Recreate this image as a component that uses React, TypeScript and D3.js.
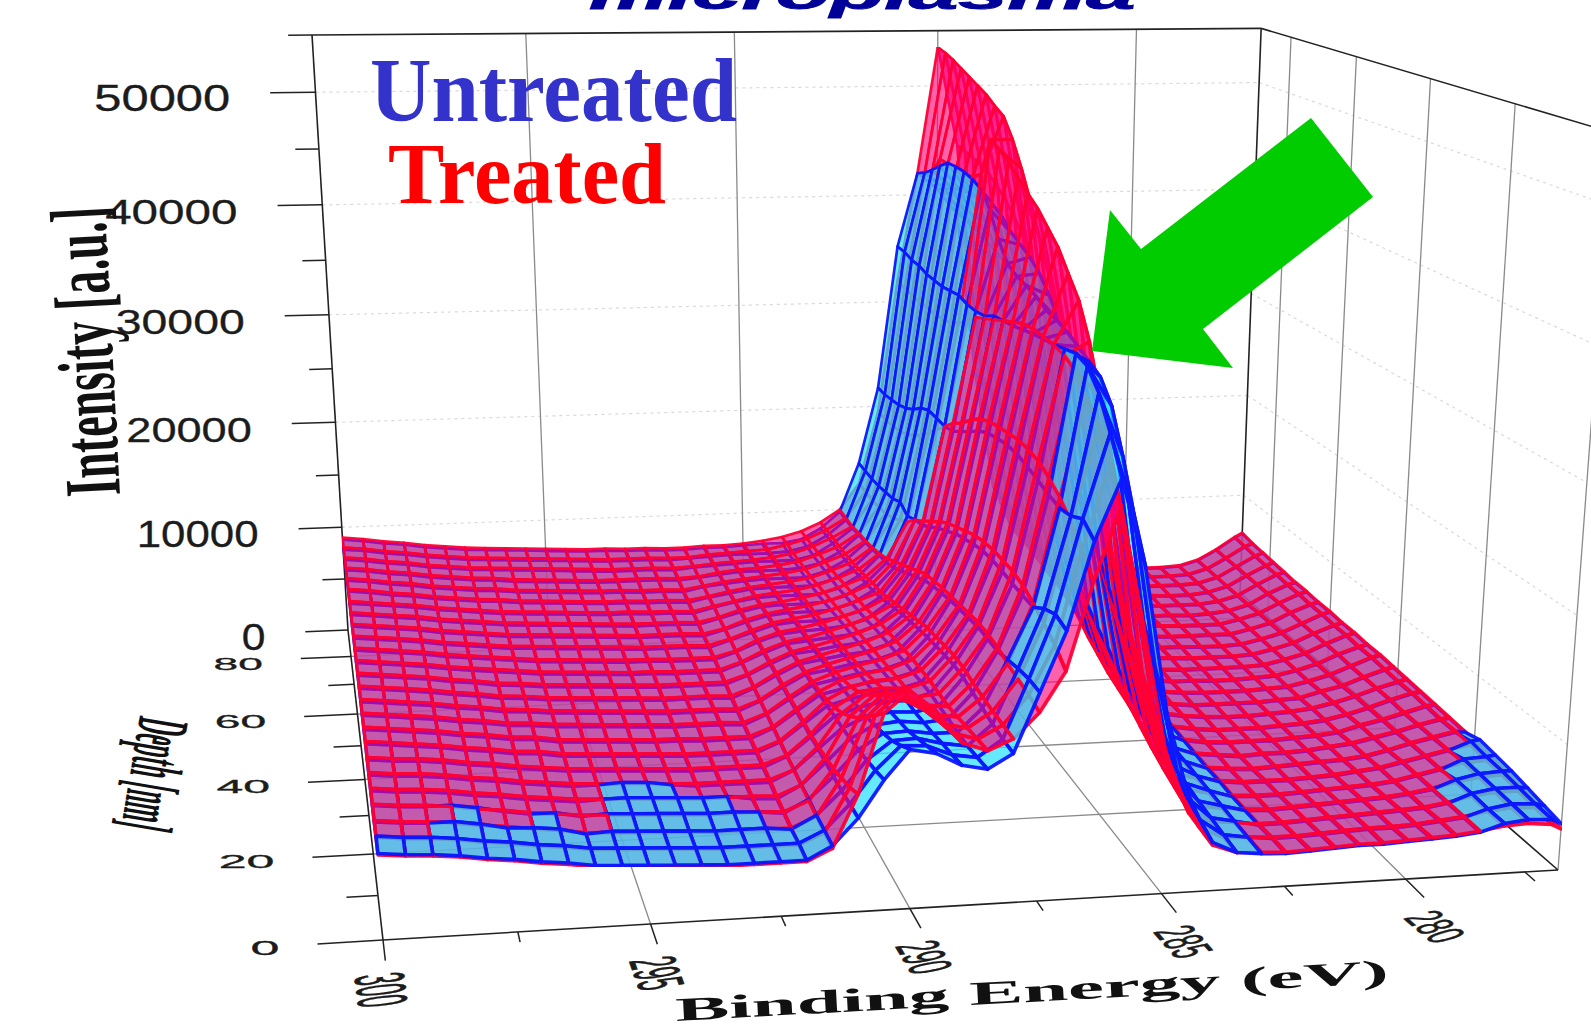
import { line, range, scaleLinear } from "d3";

// binding energy columns (eV) and depth rows (nm) of the measured surfaces
const ENERGIES = [300, 299.5, 299, 298.5, 298, 297.5, 297, 296.5, 296, 295.5, 295, 294.5, 294, 293.5, 293, 292.5, 292, 291.5, 291, 290.5, 290, 289.5, 289, 288.5, 288, 287.5, 287, 286.5, 286, 285.5, 285, 284.5, 284, 283.5, 283, 282.5, 282, 281.5, 281, 280.5, 280, 279.5, 279, 278.5, 278, 277.5, 277, 276.8];
const DEPTHS = [0, 3.75, 7.5, 11.25, 15, 18.75, 22.5, 26.25, 30, 33.75, 37.5, 41.25, 45, 48.75, 52.5, 56.25, 60, 63.75, 67.5, 71.25, 75, 78.75, 82.5, 86.25, 90];

// intensity in hundreds of a.u., one line per depth
const TREATED = [
  [64,62,61,59,56,54,51,49,46,45,44,43,42,41,41,41,41,50,90,150,166,150,125,118,126,145,175,240,295,205,110,62,36,29,28,27,28,29,30,30,31,32,33,35,38,39,37,33],
  [65,63,62,60,57,55,52,50,47,46,45,44,43,42,42,42,42,50,84,138,155,142,122,116,126,148,185,255,315,240,130,72,38,29,28,27,27,28,29,30,30,31,33,35,38,40,39,36],
  [66,64,63,61,58,56,53,51,48,47,46,45,44,43,43,43,43,51,80,126,144,134,118,114,126,150,192,268,335,275,150,85,42,30,28,26,26,27,28,29,30,31,32,35,39,41,41,39],
  [67,65,64,62,59,57,54,52,50,49,48,47,46,45,45,45,44,52,76,115,133,126,115,112,127,152,198,278,352,310,170,98,47,31,28,26,25,26,27,28,29,30,32,35,39,42,43,42],
  [68,66,65,63,60,58,55,53,51,50,49,48,47,46,46,46,45,53,74,106,122,118,112,110,128,155,203,285,365,345,195,112,52,33,29,26,25,25,26,27,28,29,31,35,39,43,44,44],
  [69,67,66,64,61,59,56,54,52,51,50,49,48,47,47,47,47,54,72,98,112,112,108,110,130,156,205,290,370,380,225,128,58,35,30,27,25,25,25,26,27,29,31,35,39,43,46,46],
  [70,68,67,65,62,60,57,55,53,52,51,50,49,48,48,48,48,55,71,92,104,106,105,110,130,156,205,292,372,405,255,145,65,38,31,27,25,24,25,26,27,28,30,34,39,43,47,47],
  [72,70,68,66,63,61,58,57,54,53,52,51,50,49,49,49,49,56,71,88,98,102,103,109,128,154,205,292,372,420,290,165,72,42,32,28,26,24,25,25,26,28,30,34,38,43,47,48],
  [73,71,69,67,64,62,59,58,55,54,53,52,51,51,50,50,50,57,71,85,94,98,101,108,126,152,203,290,372,435,320,185,82,46,34,29,26,25,25,25,26,27,29,34,38,43,48,49],
  [74,72,70,68,65,63,60,59,57,56,55,54,53,52,52,52,51,58,71,83,90,95,99,106,124,150,200,288,370,445,345,205,92,50,36,30,27,25,25,25,26,27,29,33,38,44,49,50],
  [75,73,71,69,66,64,61,60,58,57,56,55,54,53,53,53,52,59,71,81,87,92,97,104,120,148,195,285,365,455,370,228,102,54,38,31,28,26,25,25,26,27,29,33,38,44,49,51],
  [76,74,72,70,67,65,62,61,59,58,57,56,55,54,54,54,53,60,71,80,85,90,95,102,116,145,190,280,360,462,395,250,112,58,41,32,28,26,26,26,26,27,28,33,37,44,50,52],
  [77,75,73,71,68,66,63,62,60,59,58,57,56,55,55,55,55,61,71,79,83,88,93,100,112,142,185,272,355,470,420,275,125,64,44,34,29,27,26,26,26,27,28,32,37,44,51,53],
  [78,76,74,72,69,67,65,63,61,60,59,58,57,57,56,56,56,62,71,78,81,86,91,98,108,136,178,262,350,478,445,305,140,70,47,35,30,27,27,26,26,27,28,32,37,45,51,53],
  [79,77,75,73,70,68,66,64,62,61,60,59,58,58,57,57,57,62,71,77,80,84,89,95,104,130,170,255,345,484,468,335,155,78,50,37,31,28,27,27,27,27,28,32,37,45,52,54],
  [80,78,76,74,71,69,67,65,64,63,62,61,60,59,59,59,58,63,70,76,79,82,87,93,100,124,162,245,335,488,488,365,170,85,54,38,32,29,28,27,27,27,28,32,37,45,52,54],
  [81,79,77,75,72,70,68,66,65,64,63,62,61,60,60,60,59,63,70,75,78,81,85,91,99,118,155,235,328,455,503,400,188,92,58,40,33,30,28,28,27,27,28,32,37,45,53,55],
  [82,80,78,76,73,71,69,67,66,65,64,63,62,61,61,61,60,64,70,74,76,79,83,89,96,112,145,225,322,448,508,412,198,98,62,42,34,30,29,28,28,28,28,32,37,46,53,55],
  [83,81,79,77,74,72,70,68,67,66,65,64,63,63,62,62,61,65,69,73,75,77,81,87,94,108,138,215,320,446,514,422,208,104,66,44,36,31,30,29,28,28,28,32,37,46,54,56],
  [85,83,80,78,75,73,71,70,68,67,66,65,64,64,63,63,62,65,69,72,74,76,79,85,92,105,132,208,318,445,518,430,215,108,68,46,37,32,30,29,29,28,29,31,36,46,54,56],
  [86,84,81,79,76,74,72,71,69,68,67,66,65,65,64,64,63,66,69,71,73,75,78,84,91,103,128,202,318,446,522,436,222,112,70,48,38,33,31,30,29,29,29,31,36,46,55,57],
  [87,85,82,80,77,75,73,72,70,69,68,67,66,66,66,66,65,66,69,71,72,74,77,83,90,102,126,198,318,446,526,440,226,114,72,51,39,34,32,30,30,29,29,31,36,46,55,58],
  [88,86,83,81,78,76,74,73,72,71,70,69,68,67,67,67,66,67,69,70,71,73,76,82,90,100,125,196,318,430,530,442,230,116,74,53,41,35,33,31,30,30,30,31,36,46,56,59],
  [89,87,84,82,79,77,75,74,73,72,71,70,69,68,68,68,67,67,69,70,71,72,76,81,89,100,125,195,318,425,533,444,232,118,75,56,42,36,33,31,31,30,30,31,36,46,57,60],
  [90,88,85,83,80,78,76,75,74,73,72,71,70,70,69,69,68,68,69,69,70,72,75,80,88,100,125,195,320,420,535,445,235,120,76,60,44,37,34,32,31,30,30,31,36,46,58,62],
];

const UNTREATED = [
  [65,63,62,60,57,55,52,50,47,46,45,44,43,42,42,42,42,52,72,100,122,118,108,104,115,160,205,270,315,250,140,72,38,29,27,26,27,28,29,29,30,31,32,34,40,42,41,37],
  [66,64,63,61,58,56,53,51,48,47,46,45,44,43,43,43,43,52,71,96,114,113,105,102,115,160,208,278,340,280,165,85,44,31,28,26,26,27,28,29,29,30,32,34,40,43,42,40],
  [65,63,62,62,59,55,54,52,47,48,47,46,45,44,44,44,42,52,70,93,107,108,103,100,116,158,203,272,362,315,190,100,50,33,29,25,25,26,27,28,29,30,31,34,41,44,44,43],
  [66,64,63,63,60,56,53,53,49,50,49,48,47,46,46,45,43,53,70,90,102,103,100,100,118,155,195,270,375,345,215,115,56,35,30,25,24,25,26,27,28,29,31,34,41,45,46,46],
  [66,64,63,61,58,56,53,51,49,50,50,49,48,47,47,44,43,53,70,88,98,100,98,100,120,152,195,272,378,360,240,128,62,38,31,25,24,24,25,26,27,28,30,34,38,46,47,48],
  [67,65,64,62,59,57,54,52,50,50,51,50,47,45,45,45,45,54,70,86,94,97,96,100,122,152,195,275,375,365,260,140,70,42,32,26,24,24,24,25,26,28,30,34,38,42,49,50],
  [68,66,65,63,60,58,55,53,51,50,49,48,47,46,46,46,46,54,69,85,91,95,95,100,122,152,196,278,372,370,285,155,78,46,33,26,24,23,24,25,26,27,29,33,38,42,46,46],
  [70,68,66,64,61,59,56,55,52,51,50,49,48,47,47,47,47,55,69,83,88,92,94,99,120,150,196,280,370,375,310,170,85,50,34,27,25,23,24,24,25,27,29,33,37,42,46,47],
  [71,69,67,65,62,60,57,56,53,52,51,50,49,49,48,48,48,56,69,82,86,90,92,97,118,148,195,280,368,378,335,188,92,54,36,28,25,24,24,24,25,26,28,33,37,42,47,48],
  [72,70,68,66,63,61,58,57,55,54,53,52,51,50,50,50,49,57,69,80,84,88,90,96,116,146,192,278,365,380,350,208,100,58,38,29,26,24,24,24,25,26,28,32,37,43,48,49],
  [73,71,69,67,64,62,59,58,56,55,54,53,52,51,51,51,50,58,69,79,82,86,88,94,113,143,188,275,362,385,365,228,108,62,40,30,27,25,24,24,25,26,28,32,37,43,48,50],
  [74,72,70,68,65,63,60,59,57,56,55,54,53,52,52,52,51,59,69,78,81,84,86,92,110,140,184,270,360,388,380,248,118,66,43,31,27,25,25,25,25,26,27,32,36,43,49,51],
  [75,73,71,69,66,64,61,60,58,57,56,55,54,53,53,53,53,60,69,77,79,82,84,90,107,136,178,262,358,390,392,268,128,70,46,33,28,26,25,25,25,26,27,31,36,43,50,52],
  [76,74,72,70,67,65,63,61,59,58,57,56,55,55,54,54,54,61,69,76,78,80,82,88,103,130,172,255,352,395,400,290,142,75,49,34,29,26,26,25,25,26,27,31,36,44,50,52],
  [77,75,73,71,68,66,64,62,60,59,58,57,56,56,55,55,55,61,69,75,77,78,80,85,99,124,165,248,350,410,405,312,155,80,52,36,30,27,26,26,26,26,27,31,36,44,51,53],
  [78,76,74,72,69,67,65,63,62,61,60,59,58,57,57,57,56,62,68,74,76,76,78,83,95,118,158,245,350,430,410,335,170,86,56,37,31,28,27,26,26,26,27,31,36,44,51,53],
  [79,77,75,73,70,68,66,64,63,62,61,60,59,58,58,58,57,62,68,73,75,75,76,81,92,112,155,245,352,442,418,355,185,92,60,39,32,29,27,27,26,26,27,31,36,44,52,54],
  [80,78,76,74,71,69,67,65,64,63,62,61,60,59,59,59,58,63,68,72,73,73,74,79,90,108,150,245,350,446,420,362,195,98,64,41,33,29,28,27,27,27,27,31,36,45,52,54],
  [81,79,77,75,72,70,68,66,65,64,63,62,61,61,60,60,59,64,68,71,72,72,72,77,88,106,155,240,348,448,420,368,205,102,68,43,35,30,29,28,27,27,27,31,36,45,53,55],
  [83,81,78,76,73,71,69,68,66,65,64,63,62,62,61,61,60,64,67,70,71,71,71,76,86,103,150,232,348,448,420,372,212,106,70,45,36,31,29,28,28,27,28,30,35,45,53,55],
  [84,82,79,77,74,72,70,69,67,66,65,64,63,63,62,62,61,65,67,69,70,70,70,75,85,101,148,226,348,447,420,375,218,110,72,47,37,32,30,29,28,28,28,30,35,45,54,56],
  [85,83,80,78,75,73,71,70,68,67,66,65,64,64,64,64,63,65,67,69,69,69,70,74,84,100,146,222,350,440,418,378,222,112,74,50,38,33,31,29,29,28,28,30,35,45,54,57],
  [86,84,81,79,76,74,72,71,70,69,68,67,66,65,65,65,64,66,67,68,69,69,69,73,84,98,145,220,350,432,415,380,226,114,75,52,40,34,32,30,29,29,29,30,35,45,55,58],
  [87,85,82,80,77,75,73,72,71,70,69,68,67,66,66,66,65,66,67,68,68,68,69,73,83,98,145,218,352,425,410,382,228,116,76,55,41,35,32,30,30,29,29,30,35,45,56,59],
  [88,86,83,81,78,76,74,73,72,71,70,69,68,68,67,67,66,66,67,67,68,69,69,72,82,98,145,218,352,420,405,382,230,118,76,59,43,36,33,31,30,29,29,30,35,45,57,61],
];

const ENERGY_TICKS = [300, 295, 290, 285, 280];
const ENERGY_MINOR = [297.5, 292.5, 287.5, 282.5, 277.5];
const DEPTH_TICKS = [0, 20, 40, 60, 80];
const DEPTH_MINOR = [10, 30, 50, 70];
const INTENSITY_TICKS = [0, 10000, 20000, 30000, 40000, 50000];
const INTENSITY_MINOR = [5000, 15000, 25000, 35000, 45000, 55000];

const E_MAX = 300;
const E_MIN = 276.8;
const D_MAX = 90;
const I_MAX = 55000;

// where the box sits on the page (the picture is a perspective view)
const FLOOR = { fl: [383, 940], fr: [1558, 870], br: [1240, 593], bl: [348, 630] };
const VERTICAL_VP = [898, 9723];
const TOP_LEFT_Y = 35;

const uScale = scaleLinear().domain([E_MAX, E_MIN]).range([0, 1]);
const vScale = scaleLinear().domain([0, D_MAX]).range([0, 1]);
const wScale = scaleLinear().domain([0, I_MAX]).range([0, 1]);
const lineWidth = scaleLinear().domain([0, D_MAX]).range([3.6, 2.6]);

function makeProjection() {
  const [x0, y0] = FLOOR.fl;
  const [x1, y1] = FLOOR.fr;
  const [x2, y2] = FLOOR.br;
  const [x3, y3] = FLOOR.bl;
  const dx1 = x1 - x2, dx2 = x3 - x2, sx = x0 - x1 + x2 - x3;
  const dy1 = y1 - y2, dy2 = y3 - y2, sy = y0 - y1 + y2 - y3;
  const den = dx1 * dy2 - dx2 * dy1;
  const g = (sx * dy2 - dx2 * sy) / den;
  const h = (dx1 * sy - sx * dy1) / den;
  const a = x1 - x0 + g * x1, b = x3 - x0 + h * x3;
  const d = y1 - y0 + g * y1, e = y3 - y0 + h * y3;
  const t = (y3 - TOP_LEFT_Y) / (y3 - VERTICAL_VP[1]);
  const cw = (t * (h + 1)) / (1 - t);
  return (energy: number, depth: number, intensity: number): [number, number] => {
    const u = uScale(energy), v = vScale(depth), w = wScale(intensity);
    const q = g * u + h * v + 1 + w * cw;
    return [
      (a * u + b * v + x0 + w * cw * VERTICAL_VP[0]) / q,
      (d * u + e * v + y0 + w * cw * VERTICAL_VP[1]) / q,
    ];
  };
}
const project = makeProjection();
const toPath = line();

function seg(p: [number, number, number], q: [number, number, number]) {
  return toPath([project(p[0], p[1], p[2]), project(q[0], q[1], q[2])]);
}

const SURFACES = {
  treated: { table: TREATED, fill: "rgb(255,0,120)", fillOpacity: 0.62, stroke: "#ff0035" },
  untreated: { table: UNTREATED, fill: "rgb(40,225,255)", fillOpacity: 0.72, stroke: "#0a14ff" },
};

function cellPath(table: number[][], r: number, c: number) {
  return toPath([
    project(ENERGIES[c], DEPTHS[r], table[r][c] * 100),
    project(ENERGIES[c + 1], DEPTHS[r], table[r][c + 1] * 100),
    project(ENERGIES[c + 1], DEPTHS[r + 1], table[r + 1][c + 1] * 100),
    project(ENERGIES[c], DEPTHS[r + 1], table[r + 1][c] * 100),
  ]) + "Z";
}

function cellMean(table: number[][], r: number, c: number) {
  return (table[r][c] + table[r][c + 1] + table[r + 1][c] + table[r + 1][c + 1]) / 4;
}

// back to front, far side first, lower sheet under the higher one
function buildCells() {
  const cells: any[] = [];
  for (const r of range(DEPTHS.length - 2, -1, -1)) {
    for (const c of range(ENERGIES.length - 2, -1, -1)) {
      const order = cellMean(TREATED, r, c) >= cellMean(UNTREATED, r, c)
        ? ["untreated", "treated"] : ["treated", "untreated"];
      order.forEach((name) => {
        const s = SURFACES[name];
        cells.push({ key: `${name}-${r}-${c}`, d: cellPath(s.table, r, c), s, width: lineWidth(DEPTHS[r]) });
      });
    }
  }
  return cells;
}
const CELLS = buildCells();

const ARROW = [[1311, 118], [1373, 197], [1203, 329], [1233, 368], [1092, 351], [1110, 210], [1141, 249]];

const intLabelStretch = scaleLinear().domain([0, 50000]).range([1.22, 1.4]);
const depthLabelSize = scaleLinear().domain([0, 80]).range([20, 17]);
const readX = scaleLinear().domain([300, 280]).range([4, 32]);
const readY = scaleLinear().domain([300, 280]).range([33, 27]);
const upX = scaleLinear().domain([300, 280]).range([50, 34]);
const upY = scaleLinear().domain([300, 280]).range([-6, -10]);
const labelDx = scaleLinear().domain([300, 280]).range([-4, 11]);

const GRID = "#8a8a8a";
const AXIS = "#222";
const DASH = "#d9d9d9";
const SANS = "'Liberation Sans', Arial, sans-serif";
const SERIF = "'Liberation Serif', 'Times New Roman', serif";

export default function App() {
  const wallLines = [295, 290, 285, 280].map((e) => seg([e, D_MAX, 0], [e, D_MAX, I_MAX]));
  const sideLines = [20, 40, 60, 80].map((d) => seg([E_MIN, d, 0], [E_MIN, d, I_MAX]));
  const backDashes = [10000, 20000, 30000, 40000, 50000].map((i) => seg([E_MAX, D_MAX, i], [E_MIN, D_MAX, i]));
  const sideDashes = [10000, 20000, 30000, 40000, 50000].map((i) => seg([E_MIN, D_MAX, i], [E_MIN, 0, i]));
  const floorDepth = [20, 40, 60, 80].map((d) => seg([E_MAX, d, 0], [E_MIN, d, 0]));
  const floorEnergy = [295, 290, 285, 280].map((e) => seg([e, 0, 0], [e, D_MAX, 0]));
  const edges = [
    seg([E_MAX, D_MAX, 0], [E_MAX, D_MAX, I_MAX]),
    seg([E_MAX, 0, 0], [E_MAX, D_MAX, 0]),
    seg([E_MAX, 0, 0], [E_MIN, 0, 0]),
    seg([E_MIN, 0, 0], [E_MIN, D_MAX, 0]),
    seg([E_MAX, D_MAX, I_MAX], [E_MIN, D_MAX, I_MAX]),
    seg([E_MIN, D_MAX, I_MAX], [E_MIN, 0, I_MAX]),
    seg([E_MIN, D_MAX, 0], [E_MIN, D_MAX, I_MAX]),
  ];
  const ticks = [
    ...INTENSITY_TICKS.map((i) => seg([E_MAX, D_MAX, i], [E_MAX + 1.05, D_MAX, i])),
    ...INTENSITY_MINOR.map((i) => seg([E_MAX, D_MAX, i], [E_MAX + 0.55, D_MAX, i])),
    ...DEPTH_TICKS.map((d) => seg([E_MAX, d, 0], [E_MAX + 1.2, d, 0])),
    ...DEPTH_MINOR.map((d) => seg([E_MAX, d, 0], [E_MAX + 0.6, d, 0])),
    ...ENERGY_TICKS.map((e) => seg([e, 0, 0], [e, -4.4, 0])),
    ...ENERGY_MINOR.map((e) => seg([e, 0, 0], [e, -2.2, 0])),
  ];

  return (
    <svg width={1591} height={1028} viewBox="0 0 1591 1028"
      style={{ position: "fixed", left: 0, top: 0, display: "block", background: "#fff" }}>
      <defs>
        <filter id="soft" x="0" y="0" width="1" height="1">
          <feGaussianBlur stdDeviation="0.6" />
        </filter>
      </defs>
      <g fill="none">
        {backDashes.concat(sideDashes).map((d, i) => (
          <path key={i} d={d} stroke={DASH} strokeWidth={1.2} strokeDasharray="3 4" />
        ))}
        {wallLines.concat(sideLines, floorDepth, floorEnergy, [seg([E_MIN, 0, 0], [E_MIN, 0, I_MAX])]).map((d, i) => (
          <path key={i} d={d} stroke={GRID} strokeWidth={1.3} />
        ))}
        {edges.map((d, i) => <path key={i} d={d} stroke={AXIS} strokeWidth={1.6} />)}
        {ticks.map((d, i) => <path key={i} d={d} stroke={AXIS} strokeWidth={1.5} />)}
      </g>

      <g strokeLinejoin="round" filter="url(#soft)">
        {CELLS.map((c) => (
          <path key={c.key} d={c.d} fill={c.s.fill} fillOpacity={c.s.fillOpacity}
            stroke={c.s.stroke} strokeWidth={c.width} strokeOpacity={0.95} />
        ))}
      </g>

      <g fontFamily={SANS} fill="#1c1c1c" stroke="#1c1c1c" strokeWidth={0.3}>
        {INTENSITY_TICKS.map((i) => {
          const [x, y] = project(E_MAX + 1.05, D_MAX, i);
          return (
            <text key={i} fontSize={36} textAnchor="end"
              transform={`translate(${x - 40},${y + 18}) scale(${intLabelStretch(i) * 0.97},1)`}>{i}</text>
          );
        })}
        {DEPTH_TICKS.map((d) => {
          const [x, y] = project(E_MAX + 1.2, d, 0);
          return (
            <text key={d} fontSize={depthLabelSize(d)} textAnchor="end"
              transform={`translate(${x - 38},${y + 11}) scale(2.6,1)`}>{d}</text>
          );
        })}
        {ENERGY_TICKS.map((e) => {
          const [x, y] = project(e, -4.4, 0);
          const ax = readX(e) / 33.4, ay = readY(e) / 33.4;
          const bx = -upX(e) / 14.3, by = -upY(e) / 14.3;
          return (
            <text key={e} fontSize={20} textAnchor="middle" y={7}
              transform={`matrix(${ax},${ay},${bx},${by},${x + labelDx(e)},${y + 29})`}>{e}</text>
          );
        })}
      </g>

      <g fontFamily={SERIF} fontWeight="bold" fill="#111">
        <text fontSize={80} transform="translate(120,495) rotate(-93) scale(0.58,1)">Intensity [a.u.]</text>
        <text fontSize={74} transform="translate(140,715) rotate(99.6) scale(0.31,1)">Depth [nm]</text>
        <text fontSize={33} transform="translate(676,1021) rotate(-3.1) scale(2.45,1)">Binding Energy (eV)</text>
      </g>

      <g fontFamily={SERIF} fontWeight="bold">
        <text x={370} y={121} fontSize={90} fill="#3333cc" textLength={367} lengthAdjust="spacingAndGlyphs">Untreated</text>
        <text x={388} y={203} fontSize={86} fill="#ff0000" textLength={278} lengthAdjust="spacingAndGlyphs">Treated</text>
      </g>

      <text transform="translate(589,9) scale(0.886,0.45)" fontFamily={SANS} fontWeight="bold" fontStyle="italic"
        fontSize={100} fill="#000099" stroke="#000099" strokeWidth={2}>microplasma</text>

      <path d={toPath(ARROW) + "Z"} fill="#00cc00" />
    </svg>
  );
}
